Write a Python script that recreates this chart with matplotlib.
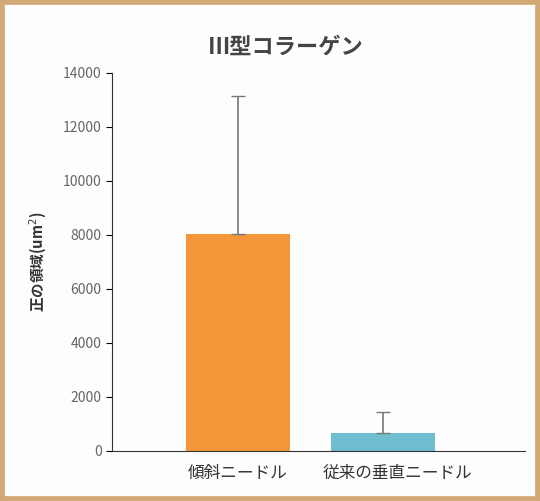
import matplotlib.pyplot as plt
import matplotlib.patches as mpatches

plt.rcParams['font.family'] = ['Noto Sans CJK JP', 'DejaVu Sans']

categories = ["傾斜ニードル", "従来の垂直ニードル"]
values = [8020, 650]
errors = [5130, 800]
colors = ["#f4973b", "#6fbdd1"]
yticks = [0, 2000, 4000, 6000, 8000, 10000, 12000, 14000]

fig = plt.figure(figsize=(5.4, 5.01), dpi=100)
fig.patch.set_facecolor("#fdfdfe")
fig.patches.append(mpatches.Rectangle((0, 0), 1, 1, transform=fig.transFigure,
                                      fill=False, edgecolor="#d2a976", linewidth=7))

ax = fig.add_axes([112 / 540, 50 / 501, 413 / 540, 378 / 501])
ax.set_facecolor("none")
ax.bar([0, 1], values, width=0.72, color=colors, zorder=2)
ax.errorbar([0, 1], values, yerr=[[0, 0], errors], fmt="none",
            ecolor="#777777", elinewidth=1.2, capsize=5, zorder=3)

ax.set_xlim(-0.87, 1.98)
ax.set_ylim(0, 14000)
ax.set_yticks(yticks)
ax.set_xticks([0, 1.1])
ax.set_xticklabels(categories, fontsize=12, color="#333333")
ax.tick_params(axis="x", length=0, pad=10)
ax.tick_params(axis="y", labelsize=10, labelcolor="#666666", direction="out", length=4)
ax.spines["top"].set_visible(False)
ax.spines["right"].set_visible(False)
ax.spines["left"].set_color("#333333")
ax.spines["bottom"].set_color("#333333")
ax.set_ylabel("正の領域(um$^2$)", fontsize=10.5, fontweight="bold", color="#333333", labelpad=10)
ax.set_title("Ⅲ型コラーゲン", fontsize=16, fontweight="bold", color="#444444", pad=14, x=0.42)

fig.savefig("out.png", dpi=100, facecolor=fig.get_facecolor())
